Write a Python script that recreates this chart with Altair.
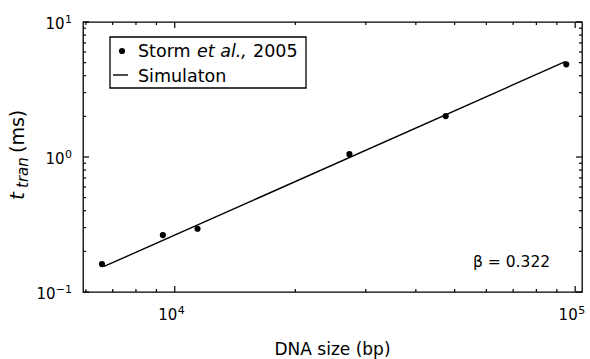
import altair as alt
import pandas as pd

# ---- data ----
dna_bp = [6580, 9340, 11400, 27300, 47500, 95000]
t_ms = [0.161, 0.264, 0.294, 1.05, 2.01, 4.86]
sim_bp = [6640, 94400]
sim_ms = [0.154, 5.08]

x_major = [1e4, 1e5]
x_major_exp = ["4", "5"]
x_minor = [6000, 7000, 8000, 9000, 20000, 30000, 40000, 50000, 60000, 70000, 80000, 90000]
y_major = [0.1, 1, 10]
y_major_exp = ["−1", "0", "1"]
y_minor = [0.2, 0.3, 0.4, 0.5, 0.6, 0.7, 0.8, 0.9, 2, 3, 4, 5, 6, 7, 8, 9]

W, H = 499, 270
FONT = "DejaVu Sans"
MAJ, MIN = 6, 3
TICK_W = 1.2

xs = alt.Scale(type="log", domain=[5900, 104000], nice=False)
ys = alt.Scale(type="log", domain=[0.1, 10], nice=False)

pts_df = pd.DataFrame({"bp": dna_bp, "ms": t_ms})
sim_df = pd.DataFrame({"bp": sim_bp, "ms": sim_ms})
xmaj_df = pd.DataFrame({"v": x_major, "exp": x_major_exp})
xmin_df = pd.DataFrame({"v": x_minor})
ymaj_df = pd.DataFrame({"v": y_major, "exp": y_major_exp})
ymin_df = pd.DataFrame({"v": y_minor})
one = pd.DataFrame({"a": [0]})

X = lambda f: alt.X(f, scale=xs, axis=None)
Y = lambda f: alt.Y(f, scale=ys, axis=None)

layers = []

# simulation line and data points
layers.append(alt.Chart(sim_df).mark_line(color="black", strokeWidth=1.4).encode(x=X("bp:Q"), y=Y("ms:Q")))
layers.append(alt.Chart(pts_df).mark_circle(color="black", size=38, opacity=1).encode(x=X("bp:Q"), y=Y("ms:Q")))

# inward ticks on all four sides
for df, L in ((xmaj_df, MAJ), (xmin_df, MIN)):
    layers.append(alt.Chart(df).mark_rule(color="black", strokeWidth=TICK_W).encode(
        x=X("v:Q"), y=alt.value(H), y2=alt.value(H - L)))
    layers.append(alt.Chart(df).mark_rule(color="black", strokeWidth=TICK_W).encode(
        x=X("v:Q"), y=alt.value(0), y2=alt.value(L)))
for df, L in ((ymaj_df, MAJ), (ymin_df, MIN)):
    layers.append(alt.Chart(df).mark_rule(color="black", strokeWidth=TICK_W).encode(
        y=Y("v:Q"), x=alt.value(0), x2=alt.value(L)))
    layers.append(alt.Chart(df).mark_rule(color="black", strokeWidth=TICK_W).encode(
        y=Y("v:Q"), x=alt.value(W), x2=alt.value(W - L)))

# tick labels: "10" with a superscript exponent
layers.append(alt.Chart(xmaj_df).mark_text(font=FONT, fontSize=15, align="right", baseline="alphabetic", dx=2.5).encode(
    x=X("v:Q"), y=alt.value(H + 28), text=alt.value("10")))
layers.append(alt.Chart(xmaj_df).mark_text(font=FONT, fontSize=11, align="left", baseline="alphabetic", dx=3).encode(
    x=X("v:Q"), y=alt.value(H + 22), text="exp:N"))
layers.append(alt.Chart(ymaj_df).mark_text(font=FONT, fontSize=11, align="right", baseline="alphabetic", dy=1).encode(
    y=Y("v:Q"), x=alt.value(-11), text="exp:N"))
layers.append(alt.Chart(ymaj_df).transform_calculate(
    xo="-9.5 - 9 * length(datum.exp)"
).mark_text(font=FONT, fontSize=15, align="right", baseline="alphabetic", dy=6.5).encode(
    y=Y("v:Q"), x=alt.X("xo:Q", scale=None, axis=None), text=alt.value("10")))

# axis titles
layers.append(alt.Chart(one).mark_text(font=FONT, fontSize=17, align="center", baseline="alphabetic").encode(
    x=alt.value(W / 2), y=alt.value(H + 63), text=alt.value("DNA size (bp)")))
layers.append(alt.Chart(one).mark_text(font=FONT, fontSize=20, fontStyle="italic", angle=270, align="left", baseline="alphabetic").encode(
    x=alt.value(24 - 83), y=alt.value(200 - 22), text=alt.value("t")))
layers.append(alt.Chart(one).mark_text(font=FONT, fontSize=15, fontStyle="italic", angle=270, align="left", baseline="alphabetic").encode(
    x=alt.value(28 - 83), y=alt.value(188 - 22), text=alt.value("tran")))
layers.append(alt.Chart(one).mark_text(font=FONT, fontSize=19, angle=270, align="left", baseline="alphabetic").encode(
    x=alt.value(24 - 83), y=alt.value(153 - 22), text=alt.value("(ms)")))

# legend
layers.append(alt.Chart(one).mark_rect(fill="white", stroke="black", strokeWidth=1.3).encode(
    x=alt.value(27), x2=alt.value(223), y=alt.value(15), y2=alt.value(66)))
layers.append(alt.Chart(one).mark_circle(color="black", size=38, opacity=1).encode(
    x=alt.value(39), y=alt.value(29)))
layers.append(alt.Chart(one).mark_rule(color="black", strokeWidth=1.4).encode(
    x=alt.value(30), x2=alt.value(45), y=alt.value(53)))
LEG = 17.5
layers.append(alt.Chart(one).mark_text(font=FONT, fontSize=LEG, align="left", baseline="alphabetic").encode(
    x=alt.value(55), y=alt.value(35), text=alt.value("Storm")))
layers.append(alt.Chart(one).mark_text(font=FONT, fontSize=LEG, fontStyle="italic", align="left", baseline="alphabetic").encode(
    x=alt.value(114), y=alt.value(35), text=alt.value("et al.,")))
layers.append(alt.Chart(one).mark_text(font=FONT, fontSize=LEG, align="left", baseline="alphabetic").encode(
    x=alt.value(170), y=alt.value(35), text=alt.value("2005")))
layers.append(alt.Chart(one).mark_text(font=FONT, fontSize=LEG, align="left", baseline="alphabetic").encode(
    x=alt.value(55), y=alt.value(60), text=alt.value("Simulaton")))

# beta annotation
layers.append(alt.Chart(one).mark_text(font=FONT, fontSize=15.5, align="left", baseline="alphabetic").encode(
    x=alt.value(390), y=alt.value(245), text=alt.value("β = 0.322")))

chart = alt.layer(*layers).properties(
    width=W, height=H,
    padding={"left": 83, "top": 22, "right": 8, "bottom": 67},
    autosize="none",
).configure(background="white").configure_view(stroke="black", strokeWidth=1.3)

chart.save("out.html", embed_options={"renderer": "svg", "actions": False})
